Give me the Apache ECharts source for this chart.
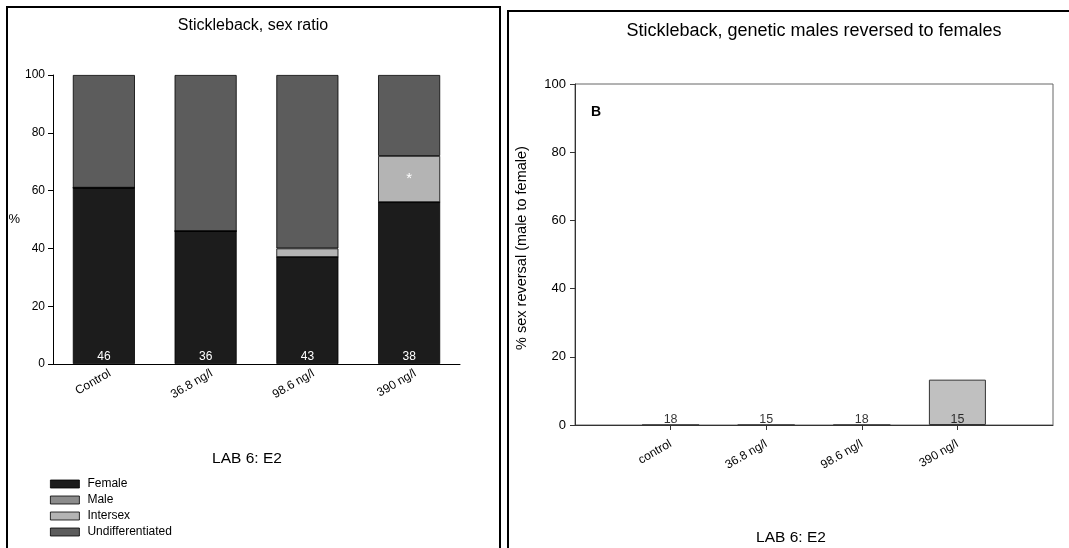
<!DOCTYPE html>
<html>
<head>
<meta charset="utf-8">
<script src="https://cdn.jsdelivr.net/npm/echarts@6/dist/echarts.min.js"></script>
<style>html,body{margin:0;padding:0;background:#fff}#c{width:1069px;height:548px}</style>
</head>
<body>
<div id="c"></div>
<script>
// ---- Left panel data (sex ratio, %) ----
const leftCategories = ['Control', '36.8 ng/l', '98.6 ng/l', '390 ng/l'];
const female = [61, 46, 37, 56];
const male = [0, 0, 0, 0];
const intersex = [0, 0, 3, 16];
const undifferentiated = [39, 54, 60, 28];
const leftN = [46, 36, 43, 38];
const intersexMarks = ['', '', '', '*'];

// ---- Right panel data (% sex reversal) ----
const rightCategories = ['control', '36.8 ng/l', '98.6 ng/l', '390 ng/l'];
const rightPositions = [1, 2, 3, 4];
const sexReversal = [0, 0, 0, 13.3];
const rightN = [18, 15, 18, 15];

const FONT = 'Liberation Sans, Arial, sans-serif';
const chart = echarts.init(document.getElementById('c'), null, {renderer: 'canvas'});

const segStyle = c => ({color: c, borderColor: '#000', borderWidth: 0.8});

const option = {
  animation: false,
  backgroundColor: '#fff',
  textStyle: {fontFamily: FONT},
  title: [
    {text: 'Stickleback, sex ratio', left: 248, top: 13, textAlign: 'center',
     textStyle: {fontFamily: FONT, fontSize: 16, fontWeight: 'normal', color: '#000'}},
    {text: 'Stickleback, genetic males reversed to females', left: 809, top: 17, textAlign: 'center',
     textStyle: {fontFamily: FONT, fontSize: 18, fontWeight: 'normal', color: '#000'}}
  ],
  legend: {
    data: ['Female', 'Male', 'Intersex', 'Undifferentiated'],
    orient: 'vertical', left: 50, top: 478, height: 70, padding: 0,
    icon: 'rect',
    itemWidth: 29, itemHeight: 8, itemGap: 4,
    itemStyle: {borderColor: '#000', borderWidth: 0.8},
    textStyle: {fontFamily: FONT, fontSize: 12, color: '#000', padding: [0, 0, 0, 3]},
    selectedMode: false
  },
  grid: [
    {left: 53, width: 407, top: 75, height: 289, outerBoundsMode: 'none', containLabel: false},
    {left: 575, width: 478, top: 84, height: 341, show: true, borderColor: '#666', borderWidth: 1,
     outerBoundsMode: 'none', containLabel: false}
  ],
  xAxis: [
    {type: 'category', gridIndex: 0, data: leftCategories,
     axisLine: {lineStyle: {color: '#000', width: 1}}, axisTick: {show: false},
     axisLabel: {rotate: 30, fontSize: 12, color: '#000', fontFamily: FONT, margin: 12,
       padding: [0, -7, 0, 0]}},
    {type: 'value', gridIndex: 1, min: 0, max: 5,
     splitLine: {show: false},
     axisLine: {onZero: false, lineStyle: {color: '#333', width: 1}},
     axisTick: {show: true, length: 5, lineStyle: {color: '#333'}, customValues: rightPositions},
     axisLabel: {rotate: 30, fontSize: 12, color: '#000', fontFamily: FONT, margin: 18,
       customValues: rightPositions, formatter: v => rightCategories[rightPositions.indexOf(v)]}}
  ],
  yAxis: [
    {type: 'value', gridIndex: 0, min: 0, max: 100, interval: 20,
     splitLine: {show: false},
     axisLine: {show: true, onZero: false, lineStyle: {color: '#000'}},
     axisTick: {show: true, length: 5, lineStyle: {color: '#000'}},
     axisLabel: {fontSize: 12, color: '#000', fontFamily: FONT, margin: 8},
     name: '%', nameLocation: 'middle', nameRotate: 0, nameGap: 32,
     nameTextStyle: {fontSize: 13, color: '#000', fontFamily: FONT}},
    {type: 'value', gridIndex: 1, min: 0, max: 100, interval: 20,
     splitLine: {show: false},
     axisLine: {show: true, onZero: false, lineStyle: {color: '#333'}},
     axisTick: {show: true, length: 5, lineStyle: {color: '#333'}},
     axisLabel: {fontSize: 13, color: '#000', fontFamily: FONT, margin: 9}}
  ],
  series: [
    {name: 'Female', type: 'bar', stack: 's', xAxisIndex: 0, yAxisIndex: 0, data: female,
     barWidth: '61%', itemStyle: segStyle('#1c1c1c'),
     label: {show: true, position: 'insideBottom', distance: 1, color: '#fff', fontSize: 12,
       fontFamily: FONT, formatter: p => String(leftN[p.dataIndex])}},
    {name: 'Male', type: 'bar', stack: 's', xAxisIndex: 0, yAxisIndex: 0, data: male,
     itemStyle: segStyle('#8c8c8c')},
    {name: 'Intersex', type: 'bar', stack: 's', xAxisIndex: 0, yAxisIndex: 0, data: intersex,
     itemStyle: segStyle('#b4b4b4'),
     label: {show: true, position: 'inside', color: '#fff', fontSize: 15, fontFamily: FONT,
       formatter: p => intersexMarks[p.dataIndex]}},
    {name: 'Undifferentiated', type: 'bar', stack: 's', xAxisIndex: 0, yAxisIndex: 0, data: undifferentiated,
     itemStyle: segStyle('#5c5c5c')},
    {name: 'reversal', type: 'bar', xAxisIndex: 1, yAxisIndex: 1,
     data: sexReversal.map((v, i) => [rightPositions[i], v]), barWidth: 57,
     itemStyle: {color: '#c0c0c0', borderColor: '#333', borderWidth: 1}},
    {name: 'n', type: 'scatter', xAxisIndex: 1, yAxisIndex: 1,
     data: rightN.map((v, i) => [rightPositions[i], 0]), symbolSize: 0, silent: true,
     label: {show: true, position: 'top', distance: -1, color: '#000', fontSize: 12.5, fontFamily: FONT,
       formatter: p => String(rightN[p.dataIndex])}}
  ],
  graphic: [
    {type: 'rect', shape: {x: 7, y: 7, width: 493, height: 560}, style: {fill: 'none', stroke: '#000', lineWidth: 2}},
    {type: 'rect', shape: {x: 508, y: 11, width: 580, height: 560}, style: {fill: 'none', stroke: '#000', lineWidth: 2}},
    {type: 'text', left: 591, top: 105, style: {text: 'B', font: 'bold 14px ' + FONT, fill: '#000'}},
    {type: 'text', x: 247, y: 459, style: {text: 'LAB 6: E2', font: '15.5px ' + FONT, fill: '#000',
      align: 'center', verticalAlign: 'middle'}},
    {type: 'text', x: 791, y: 538, style: {text: 'LAB 6: E2', font: '15.5px ' + FONT, fill: '#000',
      align: 'center', verticalAlign: 'middle'}},
    {type: 'text', x: 522, y: 248, rotation: Math.PI / 2,
     style: {text: '% sex reversal (male to female)', font: '14.5px ' + FONT, fill: '#000',
      align: 'center', verticalAlign: 'middle'}}
  ]
};
chart.setOption(option);
</script>
</body>
</html>
